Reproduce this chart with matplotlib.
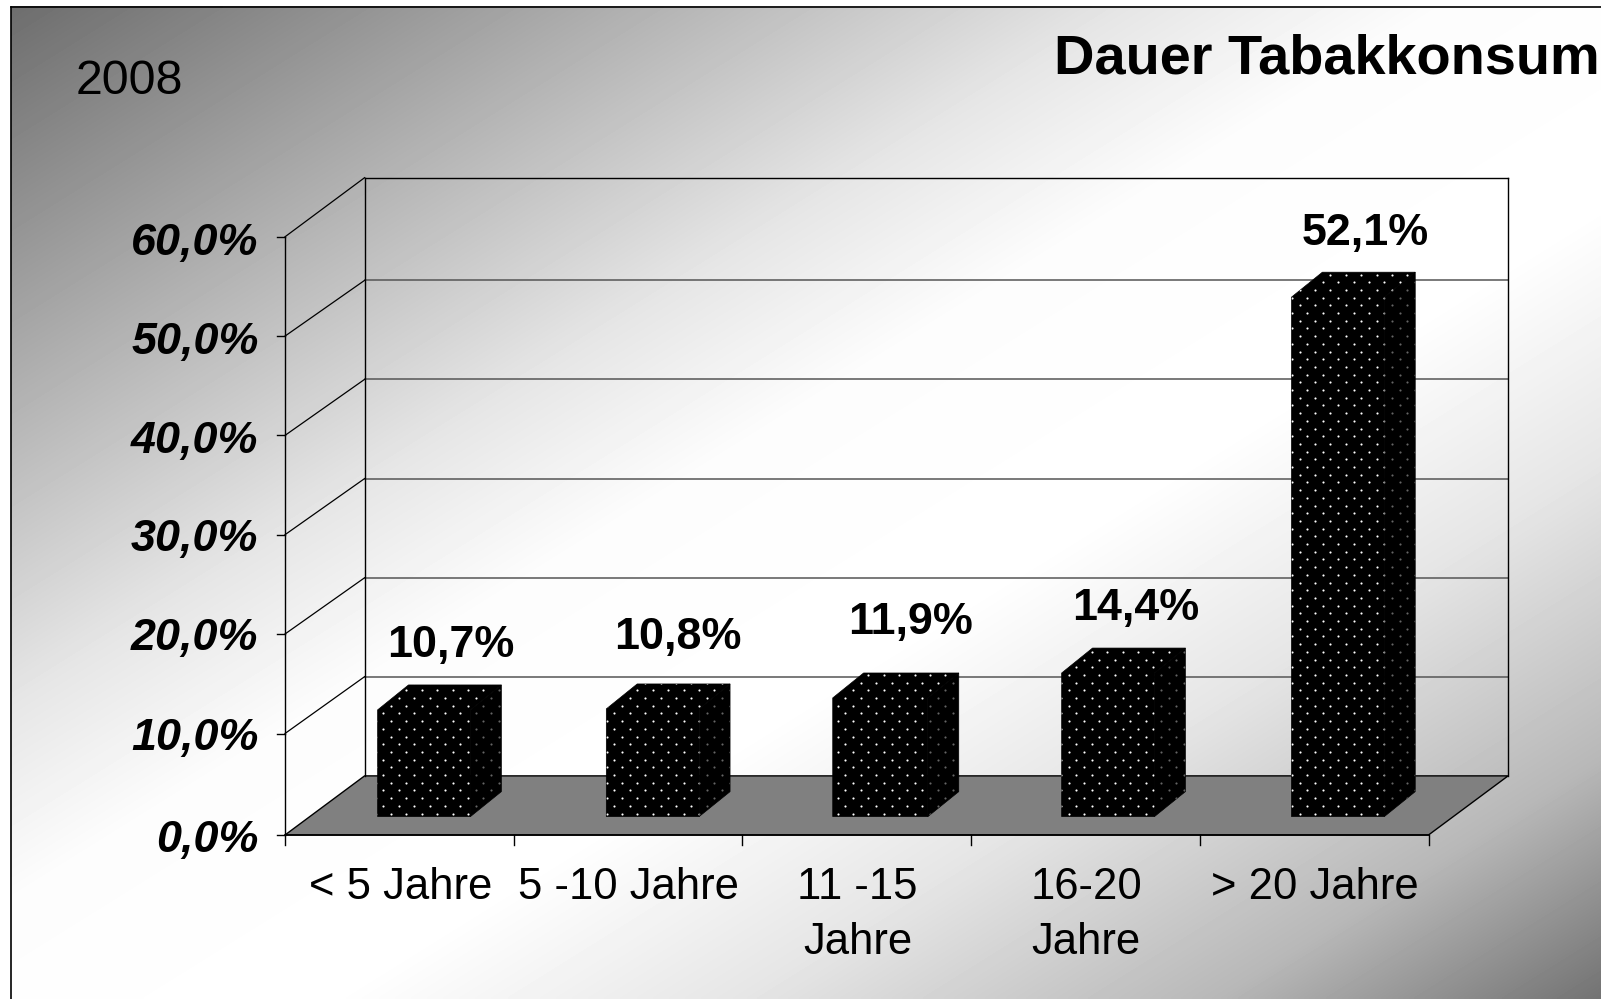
import numpy as np
import matplotlib
matplotlib.use("Agg")
import matplotlib.pyplot as plt
from matplotlib.patches import Polygon
from matplotlib.transforms import IdentityTransform

categories = ["< 5 Jahre", "5 -10 Jahre", "11 -15\nJahre", "16-20\nJahre", "> 20 Jahre"]
values = [10.7, 10.8, 11.9, 14.4, 52.1]
value_labels = ["10,7%", "10,8%", "11,9%", "14,4%", "52,1%"]
y_ticks = [0, 10, 20, 30, 40, 50, 60]
y_tick_labels = ["0,0%", "10,0%", "20,0%", "30,0%", "40,0%", "50,0%", "60,0%"]
title = "Dauer Tabakkonsum"
year = "2008"

W, H = 1601, 999
plt.rcParams["font.family"] = ["Liberation Sans", "DejaVu Sans"]
fig = plt.figure(figsize=(W / 100, H / 100), dpi=100, facecolor="white")
ax = fig.add_axes([0, 0, 1, 1])

# scale: one category = 228.7 px, one percent = 9.97 px; front plane origin at px (285, 835)
PX_CAT, PX_PCT = 228.7, 9.97
X0, Y0 = 285, 835
ax.set_xlim(-X0 / PX_CAT, (W - X0) / PX_CAT)
ax.set_ylim(-(H - Y0) / PX_PCT, Y0 / PX_PCT)
ax.axis("off")
DX, DY = 0.348, 5.93  # depth of the 3D box in data units
YMAX, N = 60, len(categories)

# background gradient (grey -> white plateau -> grey along the diagonal)
yy, xx = np.mgrid[0:1:300j, 0:1:500j]
t = (xx + yy) / 2
g = np.interp(t, [0, 0.2, 0.35, 0.45, 0.6, 0.73, 0.88, 1.0],
              [0.43, 0.70, 0.90, 0.99, 1.0, 0.90, 0.72, 0.45])
ax.imshow(g, cmap="gray", vmin=0, vmax=1, aspect="auto", zorder=0,
          extent=(10.5 / W, 1, 0, 1 - 6.5 / H), transform=ax.transAxes, interpolation="bilinear")
ax.set_xlim(-X0 / PX_CAT, (W - X0) / PX_CAT)
ax.set_ylim(-(H - Y0) / PX_PCT, Y0 / PX_PCT)
ax.plot([10.5 / W, 10.5 / W], [0, 1 - 6.5 / H], color="black", lw=1.2, transform=ax.transAxes, zorder=1)
ax.plot([10.5 / W, 1], [1 - 6.5 / H] * 2, color="black", lw=1.2, transform=ax.transAxes, zorder=1)

# floor
ax.add_patch(Polygon([(0, 0), (N, 0), (N + DX, DY), (DX, DY)], closed=True, fc="#808080", ec="black", lw=1, zorder=2))

# gridlines and walls (the source renders slightly uneven spacing)
front_shift = [0, 0.18, 0.16, 0.12, 0.08, 0.04, 0]
back_shift = [DY, 5.88, 5.80, 5.75, 5.70, 5.63, DY]
label_shift = [-0.6, -0.3, -0.3, -0.4, -0.5, -0.6, -0.7]
for k, v in enumerate(y_ticks):
    if 0 < k < len(y_ticks) - 1:
        ax.plot([DX, N + DX], [v + back_shift[k]] * 2, color="#555555", lw=1.1, zorder=2)
    if k > 0:
        ax.plot([0, DX], [v + front_shift[k], v + back_shift[k]], color="black", lw=0.9, zorder=2)
ax.plot([DX, N + DX], [YMAX + DY] * 2, color="black", lw=1, zorder=2)
ax.plot([DX, DX], [DY, YMAX + DY], color="black", lw=1, zorder=2)
ax.plot([N + DX, N + DX], [DY, YMAX + DY], color="black", lw=1, zorder=2)
ax.plot([0, 0], [0, YMAX], color="black", lw=1, zorder=2)
ax.plot([0, N], [0, 0], color="black", lw=1.2, zorder=2)

# ticks
for k, (v, lab) in enumerate(zip(y_ticks, y_tick_labels)):
    ax.plot([-0.035, 0], [v + front_shift[k]] * 2, color="black", lw=1, zorder=2)
    ax.text(-0.116, v + label_shift[k], lab, ha="right", va="center", fontsize=32.3, fontweight="bold", fontstyle="italic", zorder=5)
for i in range(N + 1):
    ax.plot([i, i], [0, -1.0], color="black", lw=1, zorder=2)
for i, lab in enumerate(categories):
    ax.text(i + 0.5 + 0.004, -3.2, lab, ha="center", va="top", fontsize=31.4, linespacing=1.45, zorder=5)

# bars
BAR_L = 0.405
bar_w = [0.406, 0.406, 0.416, 0.406, 0.406]
BDX, BDY = 0.135, 2.5
FRONT_Y = 1.85
bar_nudge = [0, 0, -0.01, -0.009, -0.004]
nudge_x = [-0.02, -0.027, -0.009, -0.024, -0.018]
nudge_y = [-0.4, 0.3, 0.7, -0.4, -0.5]

# dot pattern grid in pixels
py = np.arange(0, 130) * 7.7
gx, gy = [], []
for r, yp in enumerate(py):
    for c in range(0, 110):
        gx.append(383.3 + (c - 1) * 15.4 + (7.7 if r % 2 else 0))
        gy.append(yp + 5.0)
gx, gy = np.array(gx), H - np.array(gy)

for i, (v, lab) in enumerate(zip(values, value_labels)):
    l = i + BAR_L + bar_nudge[i]
    r = l + bar_w[i]
    b = FRONT_Y
    tp = b + v
    front_top = [(l, b), (r, b), (r, tp), (r + BDX, tp + BDY), (l + BDX, tp + BDY), (l, tp)]
    side = [(r, b), (r + BDX, b + BDY), (r + BDX, tp + BDY), (r, tp)]
    pf = Polygon(front_top, closed=True, fc="black", ec="black", lw=0.5, zorder=3)
    ps = Polygon(side, closed=True, fc="black", ec="black", lw=0.5, zorder=3)
    ax.add_patch(pf)
    ax.add_patch(ps)
    for patch, alpha in ((pf, 1.0), (ps, 0.4)):
        s = ax.scatter(gx, gy, s=2.4, c="white", linewidths=0, alpha=alpha,
                       transform=IdentityTransform(), zorder=4)
        s.set_clip_path(patch)
    ax.text(i + BAR_L + 0.203 + BDX + nudge_x[i], tp + BDY + 4.4 + nudge_y[i], lab, ha="center", va="center",
            fontsize=32.3, fontweight="bold", zorder=5)

# titles
fig.text(1054 / W, 1 - 60 / H, title, ha="left", va="center", fontsize=40.3, fontweight="bold", zorder=6)
fig.text(76 / W, 1 - 82 / H, year, ha="left", va="center", fontsize=34.8, zorder=6)

fig.savefig("out.png", dpi=100)
